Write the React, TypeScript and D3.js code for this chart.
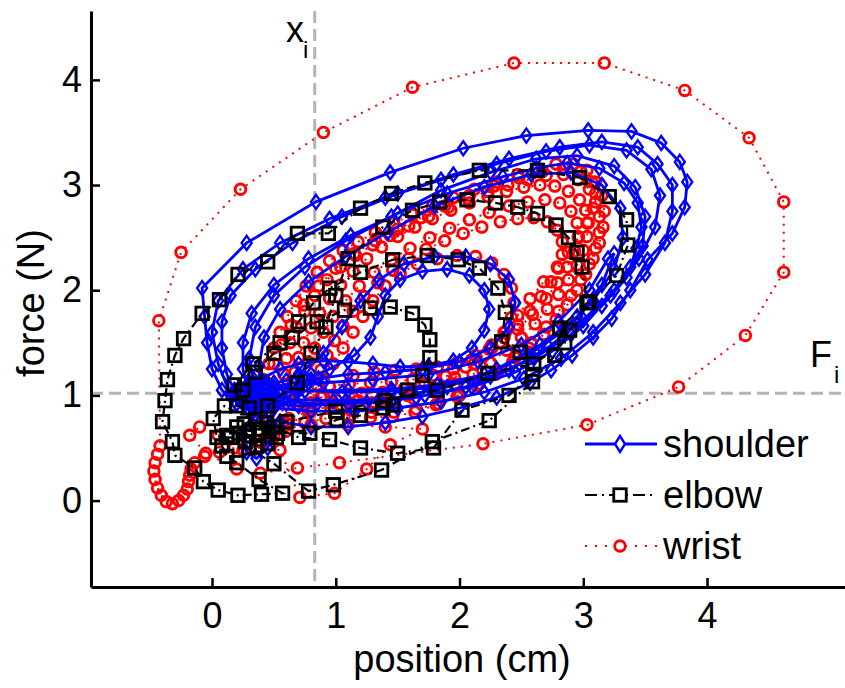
import React, { useRef, useEffect } from 'react';
import * as d3 from 'd3';

type Pt = [number, number];

const xTicks = [0, 1, 2, 3, 4];
const yTicks = [0, 1, 2, 3, 4];
const xRef = 0.83;
const fRef = 1.02;
const seriesNames = ['shoulder', 'elbow', 'wrist'];

// shoulder trajectory (cm, N)
const shoulder: Pt[] = [
  [0.25,0.92],[0.32,0.88],[0.4,0.9],[0.47,0.95],[0.5,1.02],[0.46,1.09],[0.38,1.12],[0.3,1.1],[0.24,1.04],[0.22,0.97],[0.28,0.93],[0.36,0.94],[0.43,0.99],[0.44,1.06],[0.36,1.07],[0.3,1.02],
  [0.18,0.95],[0.08,1.05],[0.0,1.25],[-0.04,1.5],[-0.06,1.75],[-0.08,2.02],[0.28,2.45],[0.84,2.84],[1.44,3.12],[2.03,3.35],[2.54,3.47],[3.04,3.52],[3.39,3.51],[3.63,3.4],[3.78,3.22],[3.84,3.03],[3.82,2.79],[3.72,2.54],[3.52,2.29],[3.38,2.0],[3.23,1.73],[3.08,1.55],[2.91,1.38],[2.74,1.24],[2.57,1.12],[2.3,0.98],[2.0,0.88],[1.7,0.8],[1.4,0.74],[1.1,0.7],[0.8,0.7],[0.55,0.75],[0.35,0.82],
  [0.25,0.62],[0.28,0.46],[0.36,0.4],[0.45,0.5],[0.5,0.68],[0.42,0.85],
  [0.2,1.0],[0.12,1.2],[0.08,1.45],[0.08,1.7],[0.15,1.95],[0.35,2.2],[0.65,2.45],[1.05,2.7],[1.5,2.92],[1.95,3.1],[2.4,3.25],[2.81,3.36],[3.15,3.41],[3.44,3.36],[3.6,3.2],[3.72,3.0],[3.72,2.75],[3.66,2.45],[3.5,2.15],[3.3,1.88],[3.08,1.6],[2.82,1.35],[2.52,1.16],[2.2,1.03],[1.85,0.94],[1.5,0.88],[1.15,0.85],[0.8,0.85],[0.5,0.88],
  [0.3,1.0],[0.25,1.25],[0.25,1.5],[0.32,1.78],[0.5,2.05],[0.78,2.3],[1.12,2.52],[1.5,2.73],[1.9,2.92],[2.35,3.08],[2.62,3.16],[2.87,3.21],[3.13,3.16],[3.33,3.02],[3.44,2.83],[3.47,2.6],[3.43,2.4],[3.38,2.22],[3.22,1.95],[3.0,1.66],[2.75,1.42],[2.45,1.22],[2.1,1.08],[1.72,1.0],[1.35,0.96],[0.98,0.95],[0.65,0.96],
  [0.4,1.02],[0.38,1.28],[0.42,1.55],[0.55,1.82],[0.78,2.08],[1.08,2.32],[1.42,2.55],[1.8,2.8],[2.2,2.98],[2.58,3.1],[2.9,3.12],[3.15,3.0],[3.3,2.78],[3.32,2.5],[3.25,2.2],[3.08,1.9],[2.85,1.62],[2.55,1.38],[2.2,1.2],[1.82,1.1],[1.45,1.06],[1.1,1.05],[0.75,1.04],
  [0.5,1.08],[0.8,1.15],[1.1,1.2],[1.4,1.22],[1.7,1.25],[2.0,1.32],[2.25,1.45],[2.4,1.65],[2.45,1.88],[2.4,2.1],[2.25,2.25],[2.05,2.32],[1.8,2.32],[1.55,2.25],[1.35,2.1],[1.2,1.9],[1.05,1.65],[0.9,1.4],[0.7,1.2],
  [0.75,1.15],[0.95,1.25],[1.15,1.38],[1.28,1.55],[1.34,1.75],[1.4,1.95],[1.52,2.1],[1.7,2.18],[1.9,2.2],[2.08,2.14],[2.2,2.0],[2.24,1.82],[2.2,1.62],[2.1,1.45],[1.95,1.33],[1.75,1.28],[1.52,1.27],[1.3,1.3],[1.1,1.32],[0.9,1.33],[0.7,1.3],[0.55,1.25],
  [0.15,1.0],[0.05,1.3],[0.0,1.6],[0.05,1.9],[0.25,2.2],[0.55,2.45],[0.95,2.68],[1.4,2.88],[1.85,3.05],[2.3,3.2],[2.7,3.32],[3.05,3.38],[3.35,3.33],[3.55,3.15],[3.62,2.9],[3.58,2.6],[3.45,2.3],[3.25,2.0],[3.0,1.72],[2.72,1.46],[2.4,1.24],[2.05,1.08],[1.65,0.98],[1.25,0.93],[0.85,0.92],[0.5,0.95],
  [0.35,1.05],[0.3,1.35],[0.35,1.65],[0.5,1.95],[0.75,2.22],[1.08,2.47],[1.45,2.7],[1.85,2.95],[2.25,3.12],[2.62,3.25],[2.95,3.28],[3.25,3.18],[3.42,2.98],[3.5,2.7],[3.48,2.42],[3.35,2.12],[3.15,1.85],[2.9,1.58],[2.6,1.35],[2.25,1.18],[1.85,1.08],[1.45,1.04],[1.05,1.03],[0.7,1.05],
  [0.3,0.95],[0.7,0.9],[1.1,0.92],[1.5,0.98],[1.9,1.08],[2.3,1.25],[2.65,1.48],[2.95,1.75],[3.15,2.05],[3.25,2.35],[3.2,2.3],[3.05,2.0],[2.8,1.7],[2.5,1.48],[2.15,1.32],[1.75,1.2],[1.3,1.15],[0.9,1.12],[0.5,1.05],
  [0.45,1.1],[0.55,1.0],[0.62,1.04],[0.7,1.08],[0.78,1.12],[0.86,1.16],[0.8,1.2],[0.7,1.18],[0.6,1.14],[0.5,1.12],[0.4,1.15],[0.32,1.18],[0.25,1.12],[0.18,1.05],[0.2,0.92],[0.3,0.86],[0.4,0.84],[0.5,0.88],[0.6,0.92],
  [0.4,1.15],[0.3,1.05],[0.35,0.98],[0.45,1.0],
];

// elbow trajectory
const elbow: Pt[] = [
  [0.38,0.62],[0.46,0.66],[0.52,0.6],[0.45,0.54],[0.36,0.52],[0.27,0.56],[0.22,0.64],[0.26,0.73],[0.35,0.77],[0.44,0.74],[0.38,0.68],[0.3,0.66],[0.2,0.7],[0.12,0.62],[0.08,0.52],[0.12,0.42],[0.2,0.36],[0.38,0.2],
  [0.57,0.07],[0.4,0.06],[0.21,0.05],[0.05,0.1],[-0.07,0.18],[-0.14,0.31],[-0.3,0.43],[-0.32,0.56],[-0.4,0.75],[-0.38,0.95],[-0.36,1.15],[-0.3,1.38],[-0.23,1.54],[-0.08,1.78],[0.06,1.91],[0.21,2.15],[0.45,2.27],[0.69,2.54],[0.94,2.54],[1.2,2.78],[1.45,2.92],[1.72,3.02],[2.16,3.14],[2.63,3.14],[2.97,3.07],[3.21,2.89],[3.35,2.67],[3.36,2.43],[3.27,2.14],[3.05,1.89],[2.89,1.62],[2.77,1.38],[2.59,1.13],[2.24,0.76],[1.78,0.56],[1.37,0.29],[0.98,0.15],[0.78,0.09],
  [0.5,0.35],[0.3,0.5],[0.15,0.6],[0.04,0.6],[0.01,0.78],[0.1,0.9],
  [0.53,0.64],[0.79,0.64],[1.01,0.77],[1.2,0.81],[1.38,0.88],[1.46,0.91],[1.58,1.05],[1.7,1.19],[1.76,1.36],[1.76,1.53],[1.72,1.67],[1.62,1.78],[1.44,1.84],[1.28,1.83],[1.07,1.81],[0.85,1.7],[0.65,1.55],[0.5,1.4],[0.35,1.22],[0.25,1.05],[0.3,0.88],
  [0.2,0.9],[0.18,1.1],[0.33,1.3],[0.55,1.5],[0.7,1.7],[0.82,1.88],[0.95,2.02],[1.2,2.17],[1.46,2.29],[1.74,2.33],[1.99,2.29],[2.16,2.21],[2.31,2.02],[2.37,1.79],[2.34,1.51],[2.49,1.41],[2.59,1.2],[2.4,1.0],[2.02,0.86],[1.79,0.5],[1.5,0.45],[1.2,0.5],[0.95,0.58],[0.7,0.6],[0.5,0.7],
  [0.45,0.9],[0.69,1.12],[0.8,1.4],[0.92,1.65],[1.0,1.95],[1.1,2.3],[1.38,2.6],[1.62,2.76],[1.84,2.84],[2.06,2.86],[2.29,2.83],[2.47,2.79],[2.63,2.73],[2.78,2.62],[2.88,2.5],[2.95,2.36],[2.99,2.22],[3.03,1.88],[2.81,1.64],[2.85,1.5],[2.6,1.3],
  [2.23,1.21],[1.82,1.05],[1.4,0.95],[1.0,0.85],[0.6,0.75],[0.4,0.68],
];

// wrist trajectory
const wrist: Pt[] = [
  [0.3,0.55],[0.18,0.5],[0.06,0.46],[-0.06,0.42],[-0.14,0.36],[-0.17,0.3],[-0.18,0.24],[-0.19,0.18],[-0.2,0.11],[-0.23,0.05],[-0.27,0.0],[-0.32,-0.03],[-0.37,-0.01],[-0.41,0.05],[-0.44,0.12],[-0.46,0.2],[-0.47,0.28],[-0.46,0.36],[-0.44,0.44],[-0.42,0.52],
  [-0.43,1.71],[-0.25,2.36],[0.23,2.96],[0.9,3.5],[1.62,3.93],[2.44,4.16],[3.17,4.16],[3.82,3.9],[4.34,3.45],[4.62,2.84],[4.62,2.17],[4.31,1.57],[3.77,1.08],[3.03,0.72],[2.19,0.54],[1.03,0.36],[0.69,0.31],[0.39,0.26],[0.2,0.3],
  [-0.05,0.45],[-0.18,0.62],[-0.1,0.7],[0.05,0.62],[0.25,0.48],[0.39,0.51],[0.55,0.48],[0.71,0.03],[0.99,0.07],[1.25,0.3],[1.44,0.53],[1.7,0.68],
  [1.4,0.7],[1.1,0.72],[0.8,0.72],[0.6,0.74],
  [0.5,0.9],[0.55,1.05],[0.58,1.2],[0.6,1.35],[0.63,1.5],[0.68,1.65],[0.75,1.8],[0.83,1.95],[0.93,2.1],[1.04,2.22],[1.16,2.33],[1.3,2.43],[1.44,2.52],[1.59,2.61],[1.75,2.7],[1.91,2.79],[2.07,2.87],[2.23,2.94],[2.39,3.0],[2.55,3.05],[2.7,3.09],[2.84,3.1],[2.96,3.05],[3.05,2.96],[3.1,2.84],[3.13,2.7],[3.13,2.55],[3.1,2.4],[3.05,2.25],[2.98,2.1],[2.9,1.95],[2.8,1.8],[2.7,1.65],[2.58,1.5],[2.45,1.36],[2.31,1.23],[2.16,1.11],[2.0,1.0],[1.83,0.92],[1.65,0.87],[1.47,0.84],[1.29,0.84],[1.12,0.86],[0.96,0.88],[0.8,0.88],[0.68,0.92],
  [0.7,1.05],[0.74,1.18],[0.78,1.32],[0.83,1.45],[0.9,1.6],[0.98,1.75],[1.08,1.9],[1.19,2.04],[1.31,2.17],[1.45,2.29],[1.6,2.4],[1.76,2.5],[1.92,2.59],[2.08,2.67],[2.24,2.74],[2.4,2.8],[2.55,2.84],[2.69,2.86],[2.81,2.83],[2.9,2.75],[2.95,2.64],[2.96,2.51],[2.93,2.37],[2.87,2.22],[2.79,2.07],[2.7,1.92],[2.59,1.77],[2.47,1.63],[2.34,1.5],[2.2,1.38],[2.05,1.27],[1.89,1.18],[1.72,1.11],[1.55,1.06],[1.38,1.03],[1.21,1.02],[1.04,1.0],[0.88,0.98],
  [0.9,1.15],[0.98,1.3],[1.06,1.45],[1.14,1.6],[1.22,1.75],[1.3,1.9],[1.4,2.04],[1.52,2.16],[1.66,2.25],[1.82,2.3],[1.98,2.33],[2.13,2.32],[2.26,2.26],[2.36,2.15],[2.42,2.02],[2.44,1.88],[2.42,1.74],[2.36,1.6],[2.26,1.48],[2.13,1.38],[1.98,1.31],[1.82,1.27],[1.65,1.25],[1.48,1.24],[1.31,1.22],[1.14,1.19],
  [0.9,1.0],[0.78,0.85],[0.62,0.78],[0.45,0.8],[0.4,0.95],[0.44,1.12],[0.5,1.3],[0.56,1.48],[0.64,1.67],[0.74,1.86],[0.86,2.04],[1.0,2.21],[1.15,2.35],[1.32,2.47],[1.5,2.58],[1.69,2.69],[1.88,2.8],[2.08,2.9],[2.28,2.99],[2.48,3.07],[2.67,3.13],[2.84,3.16],[2.98,3.13],[3.07,3.03],[3.1,2.92],[3.08,2.78],[3.03,2.64],[2.96,2.5],[2.88,2.36],[2.79,2.22],[2.68,2.08],[2.57,1.92],[2.47,1.76],[2.37,1.6],[2.26,1.45],[2.12,1.3],[1.96,1.17],[1.78,1.07],[1.58,1.0],[1.38,0.97],[1.18,0.95],[0.98,0.93],[0.8,0.85],[0.62,0.72],[0.5,0.6],[0.4,0.55],
  [0.62,0.95],[0.64,1.08],[0.67,1.22],[0.7,1.36],[0.74,1.5],[0.8,1.64],[0.87,1.78],[0.95,1.92],[1.04,2.05],[1.14,2.18],[1.25,2.3],[1.37,2.41],[1.5,2.51],[1.64,2.6],[1.78,2.68],[1.93,2.76],[2.08,2.83],[2.23,2.89],[2.38,2.94],[2.52,2.98],[2.65,3.0],[2.77,2.99],[2.88,2.94],[2.97,2.86],[3.02,2.76],[3.04,2.64],[3.03,2.51],[3.0,2.38],[2.95,2.24],[2.88,2.1],[2.8,1.96],[2.71,1.82],[2.61,1.68],[2.5,1.55],[2.38,1.43],[2.25,1.31],[2.11,1.2],[1.96,1.11],[1.8,1.03],[1.63,0.97],[1.46,0.94],[1.29,0.93],[1.12,0.93],[0.95,0.93],[0.8,0.93],
  [0.85,1.1],[0.88,1.24],[0.93,1.38],[0.99,1.52],[1.06,1.66],[1.14,1.8],[1.23,1.94],[1.34,2.07],[1.46,2.19],[1.59,2.3],[1.73,2.39],[1.88,2.47],[2.03,2.54],[2.18,2.6],[2.33,2.65],[2.47,2.68],[2.6,2.69],[2.71,2.65],[2.79,2.57],[2.83,2.46],[2.83,2.34],[2.8,2.21],[2.74,2.08],[2.66,1.94],[2.57,1.8],[2.47,1.67],[2.36,1.55],[2.24,1.44],[2.1,1.34],[1.95,1.25],[1.79,1.19],[1.62,1.15],[1.45,1.13],[1.28,1.12],[1.11,1.11],[0.95,1.08],
  [0.35,0.85],[0.38,1.0],[0.42,1.15],[0.46,1.3],[0.5,1.45],[0.55,1.6],[0.61,1.75],[0.68,1.9],[0.76,2.04],[0.85,2.17],[0.95,2.28],[1.06,2.38],[1.18,2.46],[1.32,2.55],[1.47,2.64],[1.62,2.72],[1.78,2.8],[1.95,2.88],[2.12,2.96],[2.3,3.03],[2.47,3.1],[2.63,3.16],[2.78,3.2],[2.92,3.2],[3.03,3.14],[3.1,3.03],
  [3.15,2.9],[3.17,2.75],[3.16,2.6],[3.13,2.45],[3.08,2.3],[3.02,2.15],[2.95,2.0],[2.87,1.86],[2.78,1.72],[2.68,1.58],[2.56,1.45],[2.43,1.32],[2.29,1.2],[2.14,1.09],[1.98,0.99],[1.81,0.91],[1.64,0.84],[1.46,0.8],[1.28,0.79],[1.1,0.79],[0.92,0.78],[0.75,0.74],[0.6,0.66],
];

const App = () => {
  const svgRef = useRef<SVGSVGElement>(null);

  useEffect(() => {
    const width = 845;
    const height = 688;
    const left = 91;
    const top = 11;
    const bottom = 587;
    const right = 845;
    const font = "'Liberation Sans', Arial, Helvetica, sans-serif";

    const x = d3.scaleLinear([-0.978, 5.115], [left, right]);
    const y = d3.scaleLinear([-0.822, 4.655], [bottom, top]);

    const svg = d3.select(svgRef.current);
    svg.selectAll('*').remove();
    svg.attr('width', width).attr('height', height);

    svg.append('rect').attr('width', width).attr('height', height).attr('fill', '#fff');

    // reference lines
    svg.append('line')
      .attr('x1', x(xRef)).attr('x2', x(xRef))
      .attr('y1', top).attr('y2', bottom)
      .attr('stroke', '#b3b3b3').attr('stroke-width', 3).attr('stroke-dasharray', '12,6');
    svg.append('line')
      .attr('x1', left).attr('x2', right)
      .attr('y1', y(fRef)).attr('y2', y(fRef))
      .attr('stroke', '#b3b3b3').attr('stroke-width', 3).attr('stroke-dasharray', '12,6');

    const line = d3.line<Pt>().x(d => x(d[0])).y(d => y(d[1]));

    // wrist
    svg.append('path')
      .attr('d', line(wrist))
      .attr('fill', 'none').attr('stroke', '#ff0000').attr('stroke-width', 2)
      .attr('stroke-dasharray', '2,6');
    svg.append('g')
      .selectAll('circle').data(wrist).join('circle')
      .attr('cx', d => x(d[0])).attr('cy', d => y(d[1])).attr('r', 5.3)
      .attr('fill', 'none').attr('stroke', '#ff0000').attr('stroke-width', 2.9);

    // shoulder
    const diamond = 'M0,-7L5,0L0,7L-5,0Z';
    svg.append('path')
      .attr('d', line(shoulder))
      .attr('fill', 'none').attr('stroke', '#0000ff').attr('stroke-width', 2.8);
    svg.append('g')
      .selectAll('path').data(shoulder).join('path')
      .attr('transform', d => `translate(${x(d[0])},${y(d[1])})`)
      .attr('d', diamond)
      .attr('fill', 'none').attr('stroke', '#0000ff').attr('stroke-width', 2.4);

    // elbow
    svg.append('path')
      .attr('d', line(elbow))
      .attr('fill', 'none').attr('stroke', '#000').attr('stroke-width', 2.2)
      .attr('stroke-dasharray', '9,4,2,4');
    svg.append('g')
      .selectAll('rect').data(elbow).join('rect')
      .attr('x', d => x(d[0]) - 6.25).attr('y', d => y(d[1]) - 6.25)
      .attr('width', 12.5).attr('height', 12.5)
      .attr('fill', 'none').attr('stroke', '#000').attr('stroke-width', 2.8);

    // axes
    svg.append('g')
      .attr('transform', `translate(0,${bottom})`)
      .call(d3.axisBottom(x).tickValues(xTicks).tickSizeInner(-9).tickSizeOuter(0).tickPadding(15).tickFormat(d3.format('d')))
      .call(g => g.select('.domain').attr('stroke-width', 3))
      .call(g => g.selectAll('.tick line').attr('stroke-width', 2.5))
      .call(g => g.selectAll('.tick text').attr('font-size', 36).attr('font-family', font).attr('fill', '#000'));

    svg.append('g')
      .attr('transform', `translate(${left},0)`)
      .call(d3.axisLeft(y).tickValues(yTicks).tickSizeInner(-9).tickSizeOuter(0).tickPadding(9).tickFormat(d3.format('d')))
      .call(g => g.select('.domain').attr('stroke-width', 3))
      .call(g => g.selectAll('.tick line').attr('stroke-width', 2.5))
      .call(g => g.selectAll('.tick text').attr('font-size', 36).attr('font-family', font).attr('fill', '#000'));

    // axis labels
    svg.append('text')
      .attr('x', 462).attr('y', 672)
      .attr('text-anchor', 'middle').attr('font-family', font).attr('font-size', 38)
      .text('position (cm)');
    svg.append('text')
      .attr('transform', 'translate(44,303) rotate(-90)')
      .attr('text-anchor', 'middle').attr('font-family', font).attr('font-size', 38)
      .text('force (N)');

    // x_i and F_i labels
    const xl = svg.append('text').attr('x', 286).attr('y', 42).attr('font-family', font).attr('font-size', 36);
    xl.append('tspan').text('x');
    xl.append('tspan').attr('x', 303).attr('y', 58).attr('font-size', 24).text('i');
    const fl = svg.append('text').attr('x', 810).attr('y', 367).attr('font-family', font).attr('font-size', 36);
    fl.append('tspan').text('F');
    fl.append('tspan').attr('x', 834).attr('y', 383).attr('font-size', 24).text('i');

    // legend
    const lg = svg.append('g').attr('font-family', font).attr('font-size', 38);
    const rows = [444, 495, 546];
    const mx = 620;

    lg.append('line').attr('x1', 585).attr('x2', 657).attr('y1', rows[0]).attr('y2', rows[0])
      .attr('stroke', '#0000ff').attr('stroke-width', 2.8);
    lg.append('path').attr('transform', `translate(${mx},${rows[0]})`).attr('d', 'M0,-8L5,0L0,8L-5,0Z')
      .attr('fill', '#fff').attr('stroke', '#0000ff').attr('stroke-width', 2.4);

    lg.append('line').attr('x1', 585).attr('x2', 657).attr('y1', rows[1]).attr('y2', rows[1])
      .attr('stroke', '#000').attr('stroke-width', 2.2).attr('stroke-dasharray', '12,5,2,5');
    lg.append('rect').attr('x', mx - 6.25).attr('y', rows[1] - 6.25).attr('width', 12.5).attr('height', 12.5)
      .attr('fill', '#fff').attr('stroke', '#000').attr('stroke-width', 2.8);

    lg.append('line').attr('x1', 585).attr('x2', 657).attr('y1', rows[2]).attr('y2', rows[2])
      .attr('stroke', '#ff0000').attr('stroke-width', 2).attr('stroke-dasharray', '2,8');
    lg.append('circle').attr('cx', mx).attr('cy', rows[2]).attr('r', 5.3)
      .attr('fill', '#fff').attr('stroke', '#ff0000').attr('stroke-width', 2.9);

    lg.selectAll('text.lbl').data(seriesNames).join('text')
      .attr('class', 'lbl')
      .attr('x', 663).attr('y', (_, i) => rows[i] + 13)
      .text(d => d);
  }, []);

  return <svg ref={svgRef} style={{ position: 'absolute', left: 0, top: 0, display: 'block' }} />;
};

export default App;
